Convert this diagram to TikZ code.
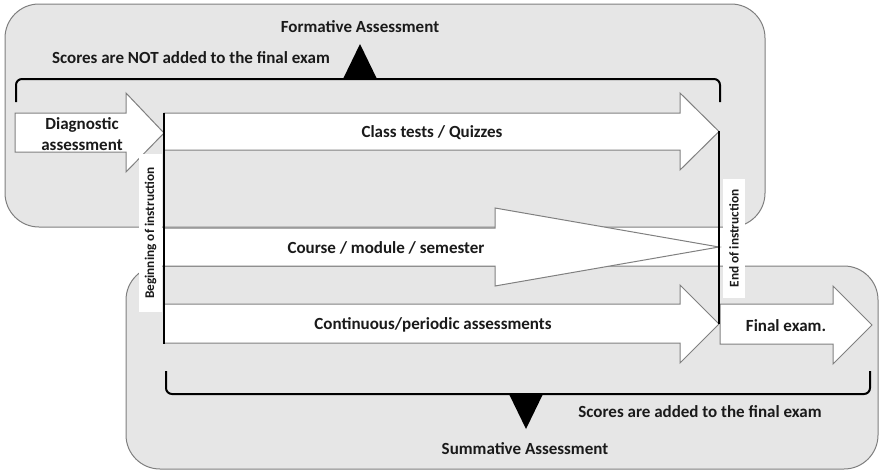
\documentclass[tikz,border=0pt]{standalone}
\usepackage{fontspec}
\setmainfont{Carlito}
\definecolor{panelfill}{HTML}{E6E6E6}
\definecolor{panelline}{HTML}{7F7F7F}
\definecolor{arrowline}{HTML}{808080}
\definecolor{ink}{HTML}{1A1A1A}
\begin{document}
\begin{tikzpicture}[x=1pt,y=-1pt,
  panel/.style={draw=panelline, fill=panelfill, line width=1pt, rounded corners=34pt},
  blockarrow/.style={draw=arrowline, fill=white, line width=1pt, line join=miter},
  lbl/.style={font=\bfseries\fontsize{17}{21}\selectfont, text=ink, align=center, inner sep=0pt},
  milestone/.style={font=\bfseries\fontsize{13.3}{15}\selectfont, text=ink, fill=white, rotate=90, inner sep=0pt},
  bracket/.style={draw=black, line width=2pt, rounded corners=6pt},
  pointer/.style={fill=black},
  timeline/.style={draw=black, line width=2pt}]
\useasboundingbox (0,0) rectangle (880,471);

% formative and summative panels
\draw[panel] (5,4) rectangle (765,227);
\draw[panel] (126,266) rectangle (878,469);

% block arrows
\draw[blockarrow] (15,113) -- (126,113) -- (126,93) -- (164,133) -- (126,172) -- (126,152) -- (15,152) -- cycle;
\draw[blockarrow] (164,113) -- (680,113) -- (680,93) -- (719,131.5) -- (680,170) -- (680,150) -- (164,150) -- cycle;
\draw[blockarrow] (164,228) -- (495,228) -- (495,208) -- (719,247) -- (495,286) -- (495,266) -- (164,266) -- cycle;
\draw[blockarrow] (164,304) -- (680,304) -- (680,285) -- (719,324) -- (680,363) -- (680,343) -- (164,343) -- cycle;
\draw[blockarrow] (720,304) -- (833,304) -- (833,286) -- (872,325) -- (833,364) -- (833,344) -- (720,344) -- cycle;

% milestone labels and instruction boundaries
\node[milestone, minimum width=158pt, minimum height=23pt] (begin) at (150.5,233) {Beginning of instruction};
\node[milestone, minimum width=119pt, minimum height=22pt] (end) at (734,238.5) {End of instruction};
\draw[timeline] (164,113) -- (164,344);
\draw[timeline] (719,131) -- (719,324);

% brackets with pointers
\draw[bracket] (16,102) -- (16,79) -- (720,79) -- (720,102);
\fill[pointer] (343,79) -- (360,44) -- (377,79) -- cycle;
\draw[bracket] (166,371) -- (166,394) -- (870,394) -- (870,371);
\fill[pointer] (509,394) -- (526,429) -- (543,394) -- cycle;

% texts
\node[lbl] (formative) at (360,27) {Formative Assessment};
\node[lbl] (notadded) at (191,58) {Scores are NOT added to the final exam};
\node[lbl] (diag) at (82,134) {Diagnostic\\assessment};
\node[lbl] (classtests) at (432,133) {Class tests / Quizzes};
\node[lbl] (course) at (386,248) {Course / module / semester};
\node[lbl] (continuous) at (433,325) {Continuous/periodic assessments};
\node[lbl] (final) at (786,326) {Final exam.};
\node[lbl] (added) at (700,412) {Scores are added to the final exam};
\node[lbl] (summative) at (525,449) {Summative Assessment};
\end{tikzpicture}
\end{document}
